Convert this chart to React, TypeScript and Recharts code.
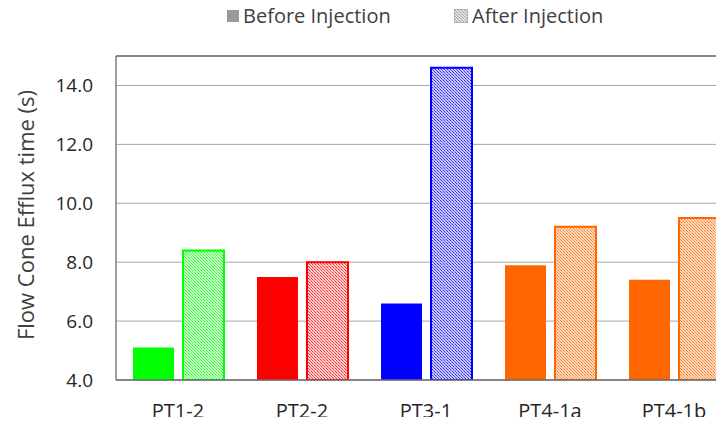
import { Bar, BarChart, CartesianGrid, Cell, ReferenceLine, XAxis, YAxis } from 'recharts';

const categories = ['PT1-2', 'PT2-2', 'PT3-1', 'PT4-1a', 'PT4-1b'];
const beforeInjection = [5.1, 7.5, 6.6, 7.9, 7.4];
const afterInjection = [8.4, 8.0, 14.6, 9.2, 9.5];
const yTicks = [4, 6, 8, 10, 12, 14];

const barColors = ['#00ff00', '#ff0000', '#0000ff', '#ff6600', '#ff6600'];
const hatchBg = ['#c8ffc8', '#ffd0d0', '#c8c8ff', '#ffd9bf', '#ffd9bf'];

const data = categories.map((name, i) => ({
    name,
    before: beforeInjection[i],
    after: afterInjection[i]
}));

const FONT = '"Open Sans", sans-serif';

function YLabel({ viewBox }: any) {
    const cy = viewBox.y + viewBox.height / 2 - 3;
    return (
        <text
            x={25}
            y={cy}
            transform={`rotate(-90, 25, ${cy})`}
            textAnchor="middle"
            dominantBaseline="central"
            fontSize={22}
            fontFamily={FONT}
            fill="#404040"
        >
            Flow Cone Efflux time (s)
        </text>
    );
}

function LegendBox() {
    const item = { position: 'absolute' as const, top: 2, fontSize: 20, fontFamily: FONT, color: '#404040', display: 'flex', alignItems: 'center' };
    return (
        <>
            <div style={{ ...item, left: 227 }}>
                <span style={{ width: 12, height: 12, background: '#9a9a9a', marginRight: 4, display: 'inline-block' }} />
                Before Injection
            </div>
            <div style={{ ...item, left: 454 }}>
                <svg width={14} height={14} style={{ marginRight: 4 }}>
                    <rect x={0.5} y={0.5} width={13} height={13} fill="url(#hatch-legend)" stroke="#b0b0b0" />
                </svg>
                After Injection
            </div>
        </>
    );
}

export default function App() {
    return (
        <div style={{ position: 'relative', margin: -8, width: 724, height: 425, overflow: 'hidden', background: '#fff' }}>
            <svg width={0} height={0} style={{ position: 'absolute' }}>
                <defs>
                    <pattern id="hatch-legend" patternUnits="userSpaceOnUse" width={3} height={3}>
                        <rect width={3} height={3} fill="#e4e4e4" />
                        <path d="M-1,-1 l2,2 M0,0 l3,3 M2,2 l2,2" stroke="#a0a0a0" strokeWidth={0.8} />
                    </pattern>
                </defs>
            </svg>
            <LegendBox />
            <div style={{ position: 'absolute', top: 0, left: 0 }}>
                <BarChart
                    width={760}
                    height={425}
                    data={data}
                    margin={{ top: 56, right: 24, left: 0, bottom: 15 }}
                    barSize={41}
                    barGap={9}
                >
                    <defs>
                        {barColors.map((c, i) => (
                            <pattern key={i} id={`hatch-${i}`} patternUnits="userSpaceOnUse" width={3} height={3}>
                                <rect width={3} height={3} fill={hatchBg[i]} />
                                <path d="M-1,-1 l2,2 M0,0 l3,3 M2,2 l2,2" stroke={c} strokeWidth={0.7} strokeOpacity={0.75} />
                            </pattern>
                        ))}
                    </defs>
                    <CartesianGrid vertical={false} stroke="#a6a6a6" strokeWidth={1} />
                    <XAxis
                        dataKey="name"
                        stroke="#6b6b6b"
                        strokeWidth={1.3}
                        tickLine={false}
                        tickMargin={18}
                        height={30}
                        tick={{ fontSize: 20, fontFamily: FONT, fill: '#262626' }}
                    />
                    <YAxis
                        domain={[4, 15]}
                        ticks={yTicks}
                        width={116}
                        stroke="#6b6b6b"
                        strokeWidth={1.3}
                        tickLine={false}
                        tickMargin={17}
                        tickFormatter={(v) => v.toFixed(1)}
                        tick={{ fontSize: 19, fontFamily: FONT, fill: '#262626' }}
                        label={<YLabel />}
                        allowDataOverflow
                    />
                    <ReferenceLine y={15} stroke="#6b6b6b" strokeWidth={1.3} />
                    <Bar dataKey="before" isAnimationActive={false}>
                        {data.map((_, i) => (
                            <Cell key={i} fill={barColors[i]} />
                        ))}
                    </Bar>
                    <Bar dataKey="after" isAnimationActive={false}>
                        {data.map((_, i) => (
                            <Cell key={i} fill={`url(#hatch-${i})`} stroke={barColors[i]} strokeWidth={2} />
                        ))}
                    </Bar>
                </BarChart>
            </div>
        </div>
    );
}
